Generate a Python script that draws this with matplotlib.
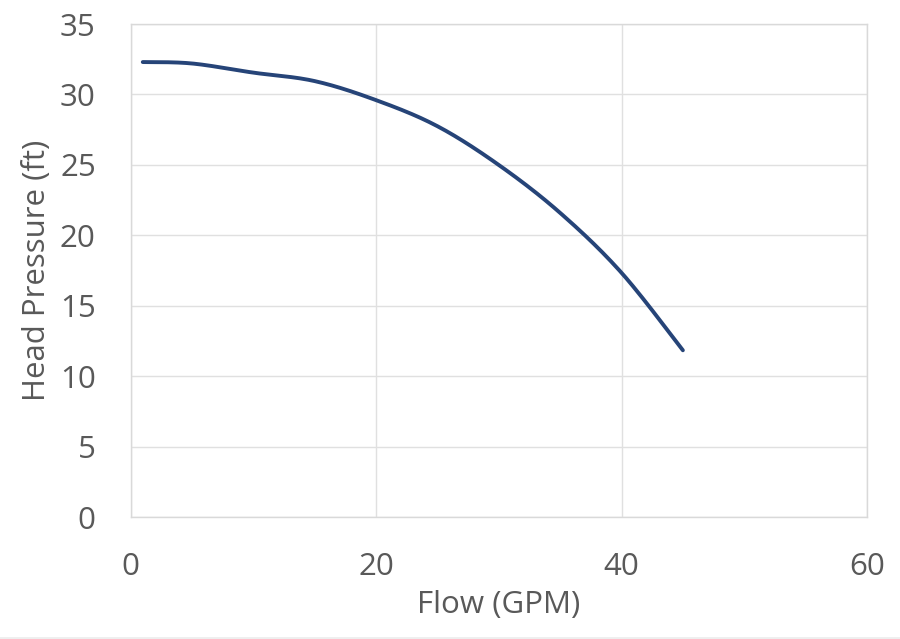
import numpy as np
import matplotlib
matplotlib.use("Agg")
import matplotlib.pyplot as plt
from matplotlib.lines import Line2D

flow = [1, 5, 10, 15, 20, 25, 30, 35, 40, 45]
head = [32.3, 32.2, 31.55, 30.95, 29.6, 27.75, 25.0, 21.6, 17.35, 11.85]
x_ticks = [0, 20, 40, 60]
y_ticks = [0, 5, 10, 15, 20, 25, 30, 35]


def excel_smooth(x, y, n=30):
    x = np.asarray(x, float)
    y = np.asarray(y, float)
    px = np.concatenate([[x[0]], x, [x[-1]]])
    py = np.concatenate([[y[0]], y, [y[-1]]])
    xs, ys = [], []
    t = np.linspace(0, 1, n)
    for i in range(1, len(px) - 2):
        p0 = np.array([px[i], py[i]])
        p3 = np.array([px[i + 1], py[i + 1]])
        p1 = p0 + (np.array([px[i + 1], py[i + 1]]) - np.array([px[i - 1], py[i - 1]])) / 6
        p2 = p3 - (np.array([px[i + 2], py[i + 2]]) - np.array([px[i], py[i]])) / 6
        b = ((1 - t) ** 3)[:, None] * p0 + (3 * (1 - t) ** 2 * t)[:, None] * p1 \
            + (3 * (1 - t) * t ** 2)[:, None] * p2 + (t ** 3)[:, None] * p3
        xs.extend(b[:, 0])
        ys.extend(b[:, 1])
    return np.array(xs), np.array(ys)


plt.rcParams['font.family'] = ['Open Sans', 'DejaVu Sans']
fig = plt.figure(figsize=(9, 6.39), dpi=100)
ax = fig.add_axes([130.5 / 900, 1 - 517.3 / 639, (867 - 130.5) / 900, (517.3 - 24) / 639])

sx, sy = excel_smooth(flow, head)
ax.plot(sx, sy, color='#264478', lw=2.8, solid_capstyle='round', zorder=3)

ax.set_xlim(0, 60)
ax.set_ylim(0, 35)
ax.set_xticks(x_ticks)
ax.set_yticks(y_ticks)
ax.grid(True, color='#e0e0e0', lw=1.0)
ax.set_axisbelow(True)
for s in ax.spines.values():
    s.set_color('#d9d9d9')
    s.set_linewidth(1.0)
ax.tick_params(length=0, labelsize=22.5, colors='#595959')
ax.tick_params(axis='x', pad=25)
ax.tick_params(axis='y', pad=25)
ax.set_xlabel('Flow (GPM)', fontsize=22.5, color='#595959', labelpad=6)
ax.set_ylabel('Head Pressure (ft)', fontsize=22.5, color='#595959', labelpad=6)

fig.add_artist(Line2D([0, 1], [1.5 / 639, 1.5 / 639], color='#eeeeee', lw=2, transform=fig.transFigure))

fig.savefig('out.png', dpi=100)
